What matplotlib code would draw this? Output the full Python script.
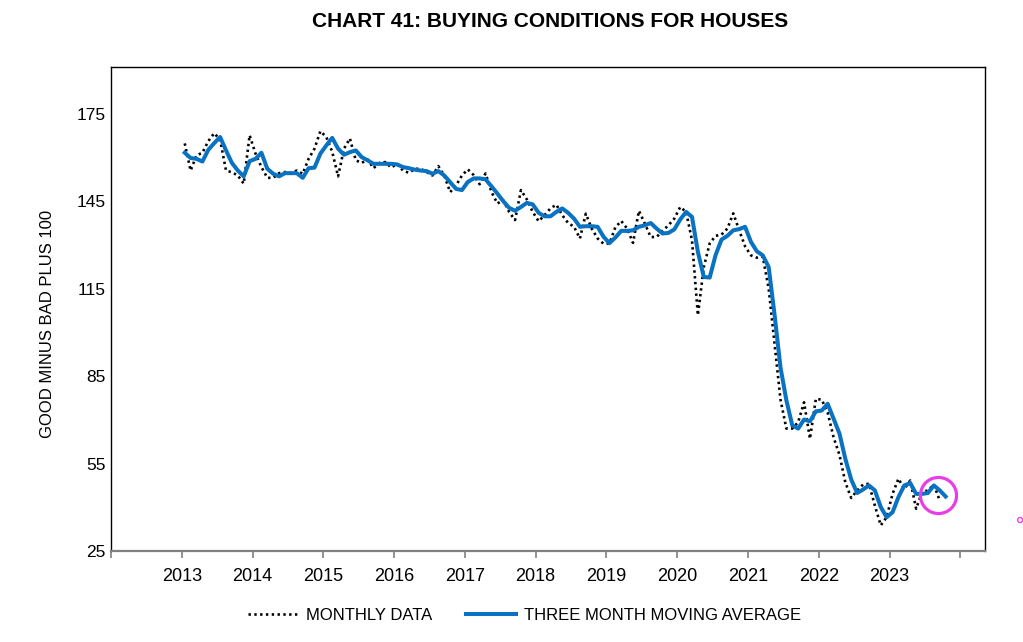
import numpy as np
import matplotlib
matplotlib.use("Agg")
import matplotlib.pyplot as plt
from matplotlib.patches import Ellipse

plt.rcParams['font.family'] = ['Liberation Sans', 'DejaVu Sans']

# monthly readings, Jan 2013 .. Sep 2023
monthly = [164.8, 155.5, 160.7, 161.6, 165.6, 168.3, 166.0, 155.5, 154.9, 153.8, 151.0, 167.6,
           161.3, 156.7, 153.0, 153.0, 154.6, 155.0, 154.6, 155.5, 154.4, 159.5, 163.0, 169.0,
           167.0, 162.0, 153.5, 163.0, 166.5, 159.0, 158.1, 159.3, 156.3, 158.1, 158.4, 156.5,
           157.8, 155.5, 154.7, 156.1, 156.1, 155.0, 153.8, 157.0, 153.8, 148.1, 150.4, 153.8,
           155.9, 153.9, 150.8, 154.5, 148.2, 144.2, 145.3, 141.3, 138.5, 148.8, 145.6, 141.3,
           138.1, 140.2, 142.5, 143.8, 140.2, 137.5, 136.2, 132.2, 140.7, 135.6, 132.2, 130.4,
           130.5, 136.0, 138.2, 135.6, 130.7, 141.7, 137.3, 132.7, 132.7, 134.8, 136.7, 139.0,
           143.0, 141.3, 131.6, 105.9, 122.4, 130.5, 133.1, 133.5, 135.6, 140.8, 135.0, 129.5,
           126.4, 125.6, 126.0, 115.0, 96.0, 77.0, 67.0, 67.0, 69.2, 76.0, 63.5, 77.2,
           76.9, 72.5, 64.0, 58.0, 48.5, 43.2, 45.8, 47.8, 48.1, 40.6, 33.8, 36.6,
           44.6, 49.8, 46.3, 49.2, 39.5, 45.2, 45.8, 47.8, 42.3]

# three month moving average, Jan 2013 .. Oct 2023
moving_avg = [161.6, 159.8, 159.5, 158.6, 162.6, 164.9, 167.0, 162.4, 158.1, 155.5, 153.5, 158.7,
              159.5, 161.6, 156.1, 154.4, 153.5, 154.6, 154.6, 154.6, 153.0, 156.3, 156.5, 161.3,
              164.1, 166.7, 163.0, 160.9, 161.8, 162.4, 160.1, 159.0, 157.8, 157.8, 157.8, 157.8,
              157.6, 156.7, 156.3, 155.8, 155.5, 155.3, 154.4, 155.3, 153.8, 151.5, 149.2, 148.8,
              151.6, 152.8, 152.8, 152.5, 150.1, 147.6, 145.0, 142.7, 141.7, 143.0, 144.4, 143.9,
              141.0, 139.8, 139.8, 141.3, 142.5, 141.0, 139.0, 136.2, 136.4, 136.4, 136.2, 132.8,
              130.6, 132.5, 134.8, 134.8, 135.0, 136.2, 136.7, 137.5, 135.6, 133.9, 134.1, 135.3,
              138.7, 141.3, 139.6, 127.6, 119.0, 118.8, 126.5, 131.8, 133.1, 135.0, 135.4, 136.2,
              131.0, 127.8, 126.4, 122.4, 106.0, 88.0, 76.7, 68.1, 67.0, 70.1, 69.5, 72.9,
              73.2, 75.5, 70.4, 65.3, 56.6, 49.5, 44.9, 46.1, 47.5, 45.8, 40.1, 36.6,
              38.3, 43.5, 47.5, 48.3, 44.6, 44.6, 44.9, 47.5, 45.8, 43.7]

start_year = 2013
year_ticks = list(range(2012, 2025))
year_labels = ["" if y in (2012, 2024) else str(y) for y in year_ticks]
y_ticks = [25, 55, 85, 115, 145, 175]

BLUE = "#0A72C2"
PINK = "#E83EE8"


def month_axis(n):
    # plot each month at mid-month as a decimal year
    return start_year + (np.arange(n) + 0.5) / 12.0


def main():
    fig = plt.figure(figsize=(10.23, 6.42), dpi=100)
    ax = fig.add_axes([0.1085, 0.1417, 0.8545, 0.7539])

    x_m = month_axis(len(monthly))
    x_a = month_axis(len(moving_avg))

    ax.plot(x_m, monthly, color="black", lw=1.9, linestyle=(0, (0.9, 1.3)),
            label="MONTHLY DATA")
    ax.plot(x_a, moving_avg, color=BLUE, lw=2.9, label="THREE MONTH MOVING AVERAGE")

    # highlight ring around the latest readings
    ax.plot([x_m[-1] - 0.02], [(monthly[-1] + moving_avg[len(monthly) - 1]) / 2], marker="o",
            ms=26, mfc="none", mec=PINK, mew=2.3, clip_on=False)
    fig.add_artist(Ellipse((0.9972, 0.19), 5 / 1023, 5 / 642, transform=fig.transFigure,
                           fill=False, ec=PINK, lw=1))

    ax.set_xlim(2012, 2024.35)
    ax.set_ylim(25, 191)
    ax.set_xticks(year_ticks)
    ax.set_xticklabels(year_labels)
    ax.set_yticks(y_ticks)

    ax.tick_params(axis="x", length=5, width=1.2, color="#808080", labelsize=13, pad=7)
    ax.tick_params(axis="y", length=0, labelsize=12.5, pad=4)
    for s in ["left", "top", "right"]:
        ax.spines[s].set_linewidth(1.0)
    ax.spines["bottom"].set_color("#808080")
    ax.spines["bottom"].set_linewidth(1.6)

    fig.text(0.538, 0.966, "CHART 41: BUYING CONDITIONS FOR HOUSES", ha="center",
             va="center", fontsize=15, fontweight="bold")
    fig.text(0.046, 0.496, "GOOD MINUS BAD PLUS 100", rotation=90, ha="center",
             va="center", fontsize=12)

    fig.legend(loc="center", bbox_to_anchor=(0.513, 0.042), ncol=2, frameon=False,
               fontsize=12, handlelength=3.0, handletextpad=0.5, columnspacing=2.0)

    fig.savefig("out.png", dpi=100)


if __name__ == '__main__':
    main()
